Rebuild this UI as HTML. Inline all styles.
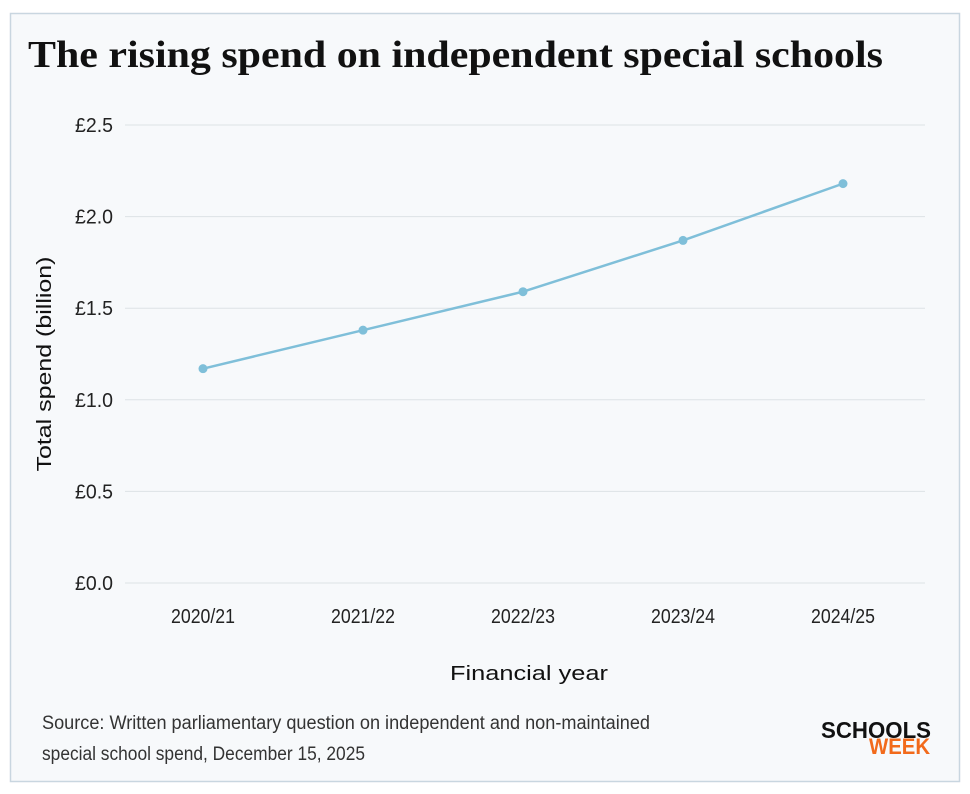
<!DOCTYPE html>
<html><head><meta charset="utf-8"><style>
html,body{margin:0;padding:0;background:#fff;}
svg{display:block;font-family:"Liberation Sans",sans-serif;}
</style></head><body>
<svg id="chart" width="970" height="794" viewBox="0 0 970 794">
<rect x="10.5" y="13.5" width="949" height="768" fill="#f7f9fb" stroke="#c9d6e0" stroke-width="1.5"/>
<text x="28" y="67" font-family="Liberation Serif, serif" font-weight="bold" font-size="38" fill="#111" textLength="855" lengthAdjust="spacingAndGlyphs">The rising spend on independent special schools</text>
<g id="grid"></g>
<g id="yticks"></g>
<g id="xticks"></g>
<g id="series"></g>
<text transform="translate(51,364) rotate(-90)" text-anchor="middle" font-size="20" fill="#111" textLength="215" lengthAdjust="spacingAndGlyphs">Total spend (billion)</text>
<text x="529" y="680" text-anchor="middle" font-size="20" fill="#111" textLength="158" lengthAdjust="spacingAndGlyphs">Financial year</text>
<text x="42" y="729" font-size="19" fill="#333" textLength="608" lengthAdjust="spacingAndGlyphs">Source: Written parliamentary question on independent and non-maintained</text>
<text x="42" y="760" font-size="19" fill="#333" textLength="323" lengthAdjust="spacingAndGlyphs">special school spend, December 15, 2025</text>
<g>
<text x="821" y="738" font-weight="bold" font-size="23" fill="#111" textLength="110" lengthAdjust="spacingAndGlyphs">SCHOOLS</text>
<text x="869" y="754" font-weight="bold" font-size="22" fill="#f26a1b" textLength="61" lengthAdjust="spacingAndGlyphs">WEEK</text>
</g>
</svg>
<script>
const categories = ["2020/21","2021/22","2022/23","2023/24","2024/25"];
const spendValues = [1.17, 1.38, 1.59, 1.87, 2.18];
const yTicks = [0, 0.5, 1.0, 1.5, 2.0, 2.5];
const yTickLabels = ["£0.0","£0.5","£1.0","£1.5","£2.0","£2.5"];

const NS = "http://www.w3.org/2000/svg";
const plotL = 125, plotR = 925, yTop = 125, yBot = 583;
const yMax = 2.5;
function yScale(v){ return yBot - (v / yMax) * (yBot - yTop); }
function xScale(i){ const x0 = 203, step = 160; return x0 + i * step; }
function mk(tag, attrs){ const e = document.createElementNS(NS, tag); for (const k in attrs) e.setAttribute(k, attrs[k]); return e; }

const grid = document.getElementById('grid'), yt = document.getElementById('yticks'), xt = document.getElementById('xticks'), ser = document.getElementById('series');
yTicks.forEach((v, i) => {
  const l = mk('line', {x1: plotL, x2: plotR, y1: yScale(v), y2: yScale(v), stroke: '#dde2e6', 'stroke-width': 1});
  
  
  grid.appendChild(l);
  const t = mk('text', {x: 113, y: yScale(v) + 7, 'text-anchor': 'end', 'font-size': 20, fill: '#222', textLength: 38, lengthAdjust: 'spacingAndGlyphs'});
  t.textContent = yTickLabels[i];
  
  
  yt.appendChild(t);
});
categories.forEach((c, i) => {
  const t = mk('text', {x: xScale(i), y: 623, 'text-anchor': 'middle', 'font-size': 20, fill: '#222', textLength: 64, lengthAdjust: 'spacingAndGlyphs'});
  t.textContent = c;
  
  
  xt.appendChild(t);
});
const pts = spendValues.map((v, i) => xScale(i) + ',' + yScale(v)).join(' ');
const line = mk('polyline', {points: pts, fill: 'none', stroke: '#7fbfd9', 'stroke-width': 2.5});


ser.appendChild(line);
spendValues.forEach((v, i) => {
  const c = mk('circle', {cx: xScale(i), cy: yScale(v), r: 4.5, fill: '#7fbfd9'});
  
  
  ser.appendChild(c);
});
</script>
</body></html>
